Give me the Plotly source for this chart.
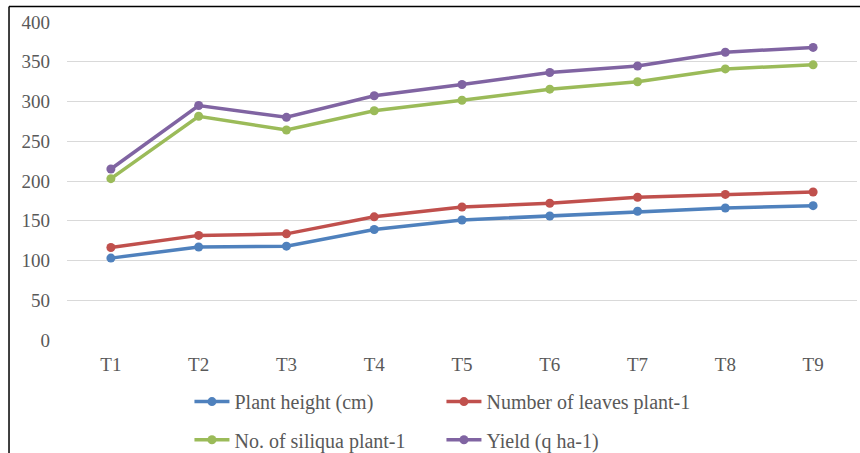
import numpy as np
import plotly.graph_objects as go

# Treatments on the category axis
treatments = ["T1", "T2", "T3", "T4", "T5", "T6", "T7", "T8", "T9"]

# Per-treatment values of each growth / yield attribute (stacked in the chart)
plant_height = [103, 117, 118, 139, 151, 156, 162, 166, 169]
leaves_per_plant = [13.4, 14.6, 15.5, 15.9, 16.3, 16.0, 17.6, 17.1, 17.2]
siliqua_per_plant = [86.5, 149.8, 130.6, 133.5, 134.3, 143.5, 145.3, 157.9, 159.9]
yield_q_ha = [12.2, 13.5, 16.0, 18.9, 19.8, 21.0, 19.7, 21.0, 21.9]

series_names = ["Plant height (cm)", "Number of leaves plant-1",
                "No. of siliqua plant-1", "Yield (q ha-1)"]
series_values = [plant_height, leaves_per_plant, siliqua_per_plant, yield_q_ha]
series_colors = ["#4F81BD", "#C0504D", "#9BBB59", "#8064A2"]
series_legends = ["legend", "legend", "legend2", "legend2"]

y_ticks = [0, 50, 100, 150, 200, 250, 300, 350, 400]

FONT = "Liberation Serif"

# stacked line chart: each line sits on top of the previous ones
stacked = np.cumsum(np.array(series_values, dtype=float), axis=0)

fig = go.Figure()
for name, ys, color, lg in zip(series_names, stacked, series_colors, series_legends):
    fig.add_trace(go.Scatter(
        x=treatments, y=ys, name=name, mode="lines+markers",
        line=dict(color=color, width=3.5),
        marker=dict(color=color, size=9),
        legend=lg,
    ))

legend_common = dict(
    orientation="h", xanchor="left", yanchor="top",
    font=dict(family=FONT, size=20, color="#595959"),
    bgcolor="rgba(0,0,0,0)", itemwidth=35,
    entrywidth=202, entrywidthmode="pixels",
    tracegroupgap=0, itemclick=False,
)

fig.update_layout(
    width=860, height=453,
    margin=dict(l=67, r=3, t=22, b=113, autoexpand=False),
    paper_bgcolor="white", plot_bgcolor="white",
    font=dict(family=FONT, color="#595959"),
    showlegend=True,
    legend=dict(x=0.155, y=-0.1323, **legend_common),
    legend2=dict(x=0.155, y=-0.2525, **legend_common),
    xaxis=dict(
        type="category", range=[-0.5, len(treatments) - 0.5],
        showgrid=False, showline=False, zeroline=False, ticks="",
        tickfont=dict(family=FONT, size=19, color="#595959"),
        ticklabelstandoff=11,
    ),
    yaxis=dict(
        range=[0, 400], tickvals=y_ticks,
        showgrid=True, gridcolor="#D9D9D9", gridwidth=1,
        showline=False, zeroline=False, ticks="",
        tickfont=dict(family=FONT, size=19, color="#595959"),
        ticklabelstandoff=16,
    ),
    shapes=[
        dict(type="line", xref="paper", yref="paper",
             x0=-0.0734, x1=1.01, y0=1.0488, y1=1.0488,
             line=dict(color="black", width=1.5)),
        dict(type="line", xref="paper", yref="paper",
             x0=-0.0734, x1=-0.0734, y0=1.0488, y1=-0.40,
             line=dict(color="black", width=1.5)),
    ],
)

fig.write_html("out.html")
